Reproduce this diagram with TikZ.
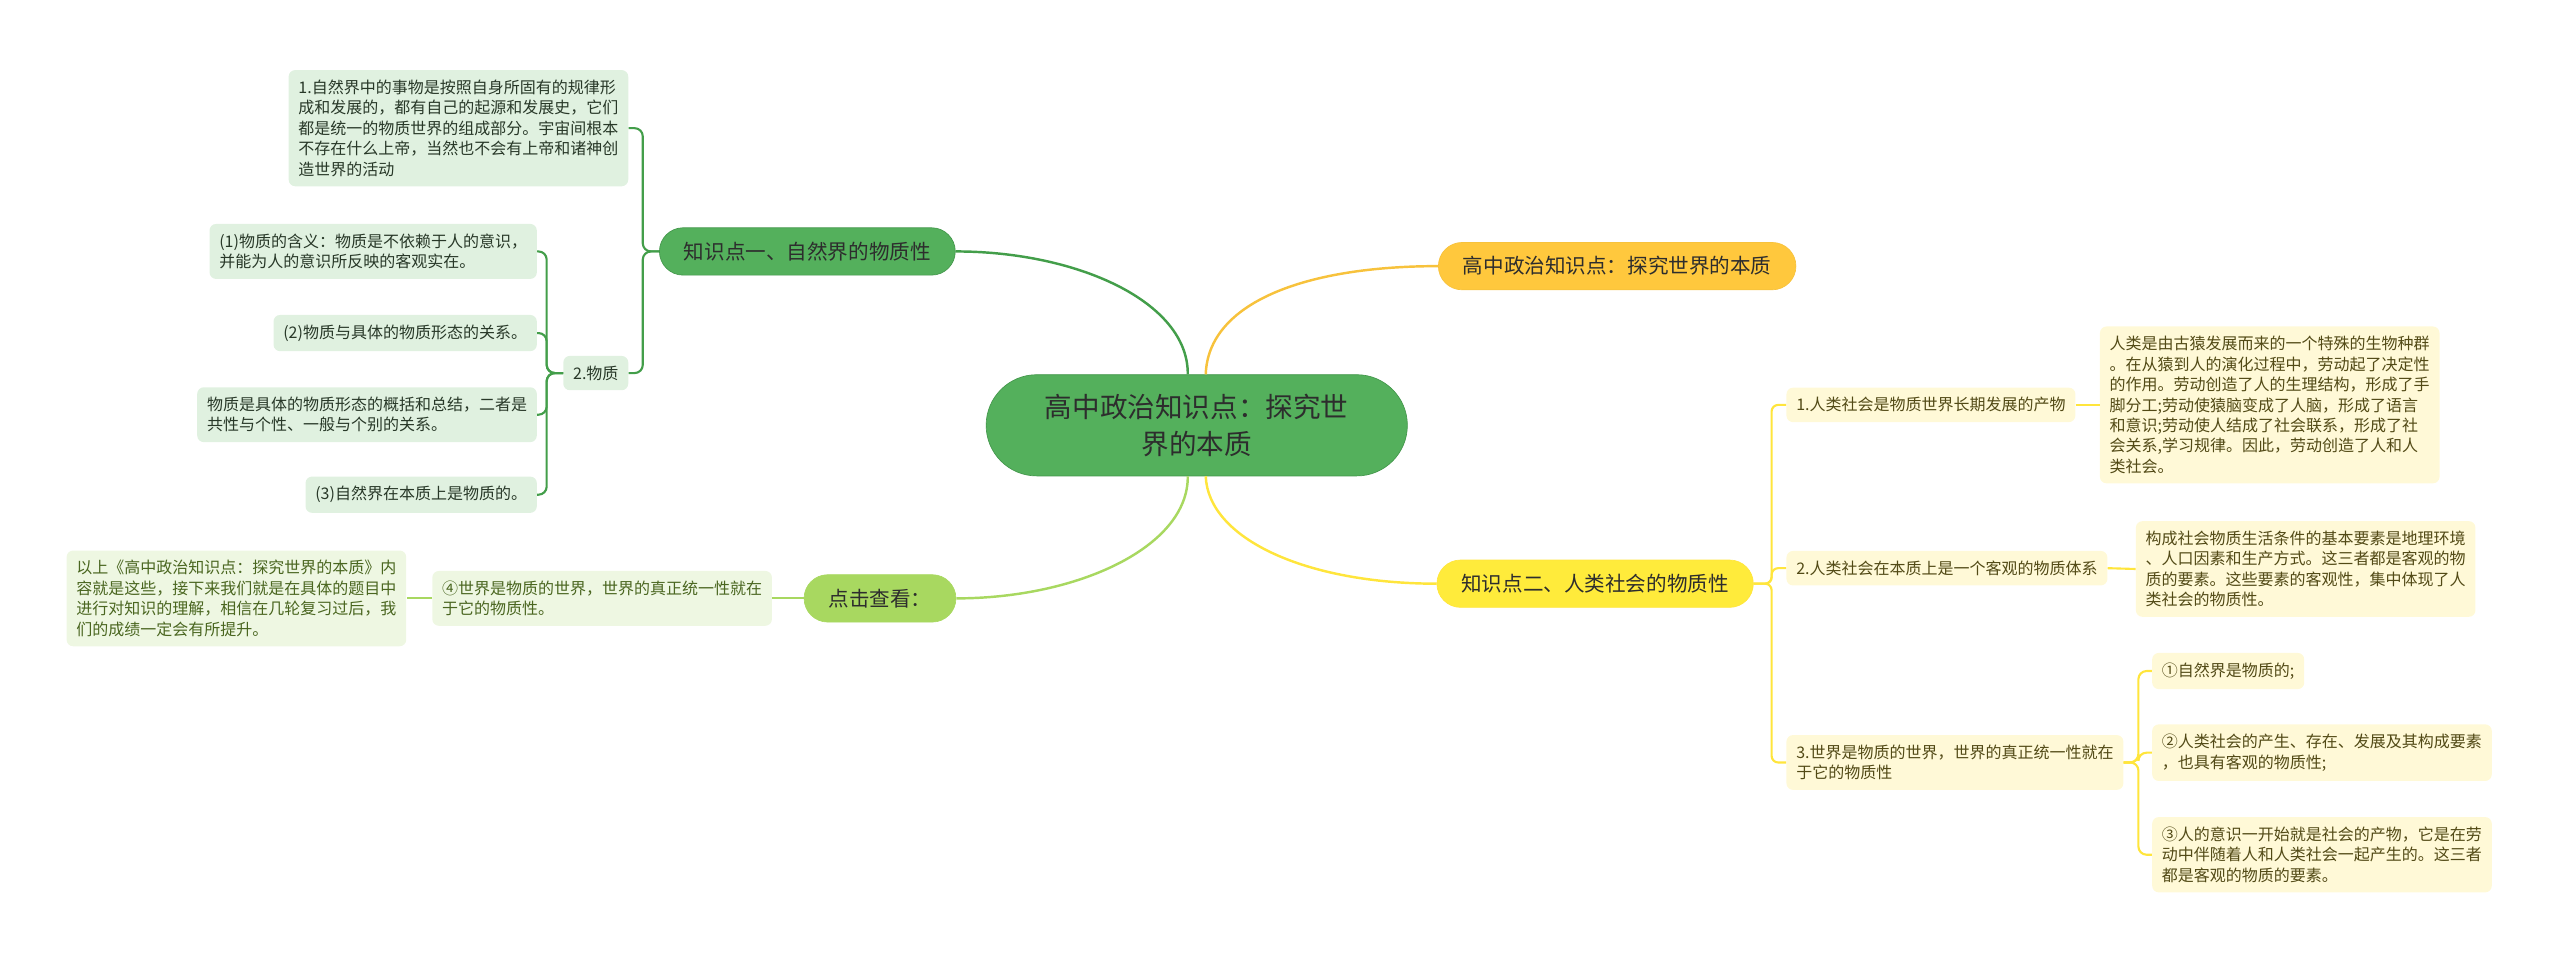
\documentclass[tikz,border=0pt]{standalone}
\usepackage{fontspec}
\usepackage{xcolor}
\usepackage{tikz}
\newfontfamily\cjk{Noto Sans CJK SC}
\definecolor{txt}{RGB}{45,45,45}
\definecolor{gtxt}{RGB}{40,56,40}
\definecolor{ltxt}{RGB}{74,102,32}
\definecolor{ytxt}{RGB}{82,74,22}
\definecolor{rootfill}{RGB}{84,176,92}
\definecolor{rootdraw}{RGB}{66,150,74}
\definecolor{dgreen}{RGB}{67,158,74}
\definecolor{leafgreen}{RGB}{224,241,224}
\definecolor{limefill}{RGB}{168,216,96}
\definecolor{leaflime}{RGB}{238,247,226}
\definecolor{orangefill}{RGB}{255,200,61}
\definecolor{orangeline}{RGB}{247,194,60}
\definecolor{yellowfill}{RGB}{255,235,59}
\definecolor{yellowline}{RGB}{255,229,60}
\definecolor{leafyellow}{RGB}{255,249,215}

\begin{document}
\begin{tikzpicture}[
    x=1pt, y=-1pt,
    every node/.style={font=\cjk\fontsize{9.8}{12.5}\selectfont, text=txt,
                       align=left, inner xsep=6pt, inner ysep=6pt,
                       rounded corners=4pt},
    root/.style={font=\cjk\fontsize{16.9}{22.4}\selectfont, align=center,
                 fill=rootfill, draw=rootdraw, minimum width=258pt,
                 minimum height=62pt, rounded corners=31pt},
    branch/.style={font=\cjk\fontsize{12.6}{15}\selectfont, minimum height=29pt,
                   inner xsep=15pt, inner ysep=0pt, rounded corners=14.5pt},
    gbox/.style={fill=leafgreen, text=gtxt}, lbox/.style={fill=leaflime, text=ltxt},
    ybox/.style={fill=leafyellow, text=ytxt},
    link/.style={line width=1.5pt},
    fork/.style={line width=1.3pt, rounded corners=5pt}
  ]
  \useasboundingbox (0,0) rectangle (1568,590);
  \node[root] (root) at (733,260.5) {高中政治知识点：探究世\\界的本质};
  \node[branch, fill=rootfill, draw=rootdraw] (k1) at (494.5,154) {知识点一、自然界的物质性};
  \node[branch, fill=orangefill, draw=orangeline] (title) at (990.5,163) {高中政治知识点：探究世界的本质};
  \node[branch, fill=yellowfill, draw=yellowline] (k2) at (977,357.5) {知识点二、人类社会的物质性};
  \node[branch, fill=limefill, draw=limefill] (more) at (539,366.5) {点击查看：};

  \node[gbox, anchor=east] (g1) at (385,78.5) {1.自然界中的事物是按照自身所固有的规律形\\成和发展的，都有自己的起源和发展史，它们\\都是统一的物质世界的组成部分。宇宙间根本\\不存在什么上帝，当然也不会有上帝和诸神创\\造世界的活动};
  \node[gbox, anchor=east] (g2) at (385,228.5) {2.物质};
  \node[gbox, anchor=east] (g21) at (329,154) {(1)物质的含义：物质是不依赖于人的意识，\\并能为人的意识所反映的客观实在。};
  \node[gbox, anchor=east] (g22) at (329,204) {(2)物质与具体的物质形态的关系。};
  \node[gbox, anchor=east] (g23) at (329,254) {物质是具体的物质形态的概括和总结，二者是\\共性与个性、一般与个别的关系。};
  \node[gbox, anchor=east] (g24) at (329,303) {(3)自然界在本质上是物质的。};

  \node[lbox, anchor=east] (m1) at (473,366.5) {④世界是物质的世界，世界的真正统一性就在\\于它的物质性。};
  \node[lbox, anchor=east] (m2) at (249,366.5) {以上《高中政治知识点：探究世界的本质》内\\容就是这些，接下来我们就是在具体的题目中\\进行对知识的理解，相信在几轮复习过后，我\\们的成绩一定会有所提升。};

  \node[ybox, anchor=west] (y1) at (1094,248) {1.人类社会是物质世界长期发展的产物};
  \node[ybox, anchor=west] (y11) at (1286,248) {人类是由古猿发展而来的一个特殊的生物种群\\。在从猿到人的演化过程中，劳动起了决定性\\的作用。劳动创造了人的生理结构，形成了手\\脚分工;劳动使猿脑变成了人脑，形成了语言\\和意识;劳动使人结成了社会联系，形成了社\\会关系,学习规律。因此，劳动创造了人和人\\类社会。};
  \node[ybox, anchor=west] (y2) at (1094,348) {2.人类社会在本质上是一个客观的物质体系};
  \node[ybox, anchor=west] (y21) at (1308,348.5) {构成社会物质生活条件的基本要素是地理环境\\、人口因素和生产方式。这三者都是客观的物\\质的要素。这些要素的客观性，集中体现了人\\类社会的物质性。};
  \node[ybox, anchor=west] (y3) at (1094,467) {3.世界是物质的世界，世界的真正统一性就在\\于它的物质性};
  \node[ybox, anchor=west] (y31) at (1318,411) {①自然界是物质的;};
  \node[ybox, anchor=west] (y32) at (1318,461) {②人类社会的产生、存在、发展及其构成要素\\，也具有客观的物质性;};
  \node[ybox, anchor=west] (y33) at (1318,523.5) {③人的意识一开始就是社会的产物，它是在劳\\动中伴随着人和人类社会一起产生的。这三者\\都是客观的物质的要素。};

  \draw[link, dgreen] (root.100) .. controls (728,185) and (660,154) .. (k1.east);
  \draw[link, orangeline] (root.80) .. controls (740,185) and (800,163) .. (title.west);
  \draw[link, limefill] (root.260) .. controls (728,335) and (660,366.5) .. (more.east);
  \draw[link, yellowline] (root.280) .. controls (740,330) and (800,357.5) .. (k2.west);

  \foreach \c in {g1,g2} \draw[fork, dgreen] (k1.west) -- ++(-10,0) |- (\c.east);
  \foreach \c in {g21,g22,g23,g24} \draw[fork, dgreen] (g2.west) -- ++(-10,0) |- (\c.east);
  \draw[fork, limefill] (more.west) -- (m1.east);
  \draw[fork, limefill] (m1.west) -- (m2.east);
  \foreach \c in {y1,y2,y3} \draw[fork, yellowline, rounded corners=4pt] (k2.east) -- ++(11,0) |- (\c.west);
  \draw[fork, yellowline] (y1.east) -- (y11.west);
  \draw[fork, yellowline] (y2.east) -- (y21.west);
  \foreach \c in {y31,y32,y33} \draw[fork, yellowline] (y3.east) -- ++(9,0) |- (\c.west);
\end{tikzpicture}
\end{document}
